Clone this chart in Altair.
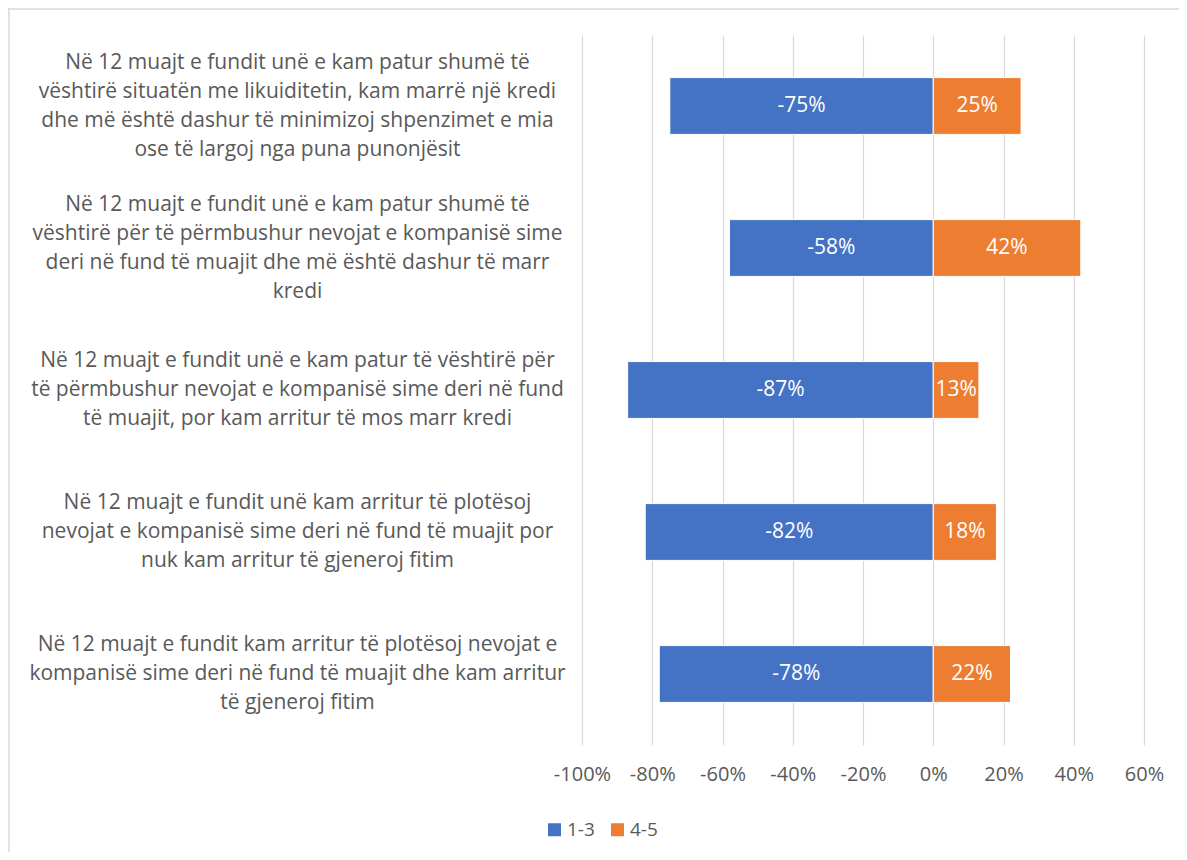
import altair as alt
import pandas as pd

categories = [
    "Në 12 muajt e fundit unë e kam patur shumë të\nvështirë situatën me likuiditetin, kam marrë një kredi\ndhe më është dashur të minimizoj shpenzimet e mia\nose të largoj nga puna punonjësit",
    "Në 12 muajt e fundit unë e kam patur shumë të\nvështirë për të përmbushur nevojat e kompanisë sime\nderi në fund të muajit dhe më është dashur të marr\nkredi",
    "Në 12 muajt e fundit unë e kam patur të vështirë për\ntë përmbushur nevojat e kompanisë sime deri në fund\ntë muajit, por kam arritur të mos marr kredi",
    "Në 12 muajt e fundit unë kam arritur të plotësoj\nnevojat e kompanisë sime deri në fund të muajit por\nnuk kam arritur të gjeneroj fitim",
    "Në 12 muajt e fundit kam arritur të plotësoj nevojat e\nkompanisë sime deri në fund të muajit dhe kam arritur\ntë gjeneroj fitim",
]
low_scores = [-75, -58, -87, -82, -78]   # 1-3
high_scores = [25, 42, 13, 18, 22]      # 4-5
series = ["1-3", "4-5"]
colors = ["#4472C4", "#ED7D31"]
x_ticks = [-100, -80, -60, -40, -20, 0, 20, 40, 60]

rows = []
for c, lo, hi in zip(categories, low_scores, high_scores):
    rows.append({"category": c, "group": series[0], "value": lo})
    rows.append({"category": c, "group": series[1], "value": hi})
df = pd.DataFrame(rows)

FONT = "Open Sans"
GRAY = "#595959"
LH = 29

y_enc = alt.Y(
    "category:N",
    sort=categories,
    scale=alt.Scale(paddingInner=0.6, paddingOuter=0.3),
    axis=alt.Axis(
        title=None,
        ticks=False,
        domain=False,
        labelExpr="split(datum.label, '\\n')",
        labelAlign="center",
        labelBaseline="middle",
        labelPadding=285,
        labelFontSize=21,
        labelLineHeight=LH,
        labelFont=FONT,
        labelColor=GRAY,
        labelLimit=0,
        labelOffset={
            "condition": {
                "test": "length(split(datum.label, '\\n')) >= 4",
                "value": -1.5 * LH,
            },
            "value": -1.0 * LH,
        },
    ),
)

x_enc = alt.X(
    "value:Q",
    scale=alt.Scale(domain=[-100, 60], nice=False, zero=False),
    axis=alt.Axis(
        title=None,
        values=x_ticks,
        labelExpr="datum.value + '%'",
        labelOverlap=False,
        labelFlush=False,
        ticks=False,
        domain=False,
        grid=True,
        gridColor="#D9D9D9",
        gridWidth=1.2,
        labelFontSize=20,
        labelFont=FONT,
        labelColor=GRAY,
        labelPadding=19,
    ),
)

bars = alt.Chart(df).mark_bar(stroke="white", strokeWidth=1).encode(
    x=x_enc,
    y=y_enc,
    color=alt.Color(
        "group:N",
        scale=alt.Scale(domain=series, range=colors),
        legend=alt.Legend(
            title=None,
            orient="none",
            legendX=-37,
            legendY=785,
            direction="horizontal",
            symbolType="square",
            symbolSize=169,
            symbolStrokeWidth=0,
            labelFontSize=19,
            labelFont=FONT,
            labelColor=GRAY,
            columnPadding=13,
            labelOffset=3,
        ),
    ),
)

labels = alt.Chart(df).transform_calculate(
    mid="datum.value / 2",
    txt="datum.value + '%'",
).mark_text(color="white", fontSize=21, font=FONT, baseline="middle").encode(
    x="mid:Q",
    y=alt.Y("category:N", sort=categories),
    text="txt:N",
)

frame_top = alt.Chart(pd.DataFrame({"k": [0]})).mark_rule(color="#D9D9D9", strokeWidth=1.5).encode(
    x=alt.value(-574), x2=alt.value(640), y=alt.value(-26)
)
frame_left = alt.Chart(pd.DataFrame({"k": [0]})).mark_rule(color="#D9D9D9", strokeWidth=1.5).encode(
    x=alt.value(-573), y=alt.value(-27), y2=alt.value(830)
)

chart = alt.layer(frame_top, frame_left, bars, labels).properties(
    width=562,
    height=710,
    autosize=alt.AutoSizeParams(type="none"),
    padding={"left": 574, "top": 27, "right": 35, "bottom": 107},
).configure_view(stroke=None)

chart.save("out.html", embed_options={"renderer": "svg", "actions": False})
